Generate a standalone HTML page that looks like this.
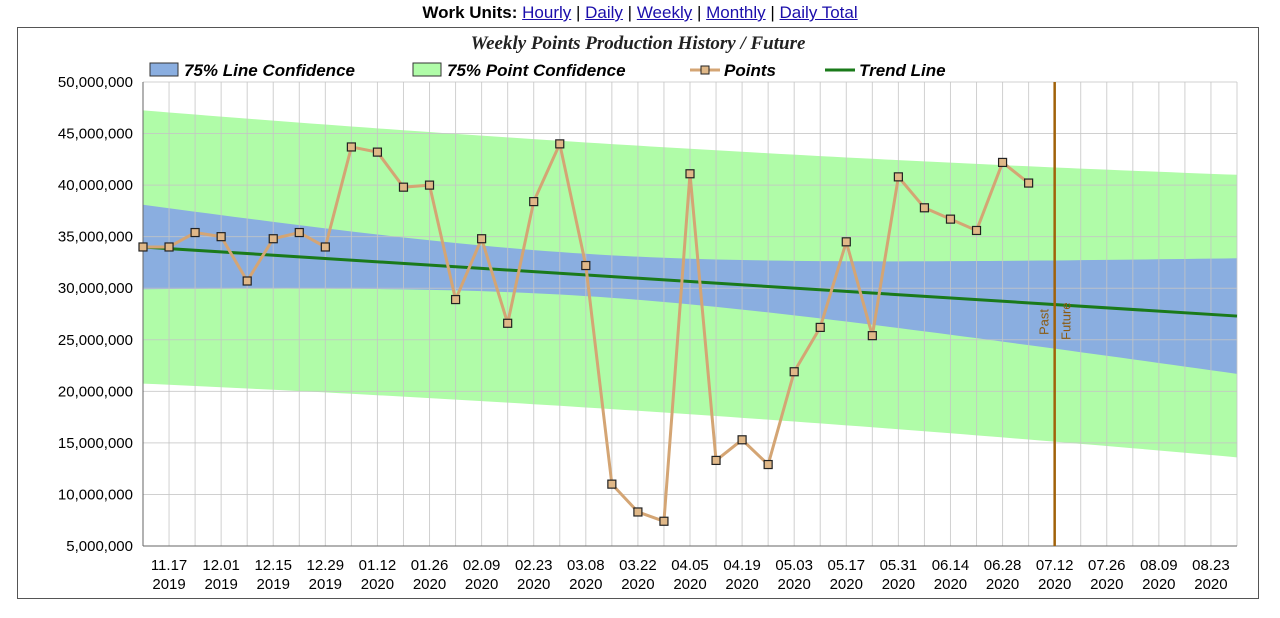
<!DOCTYPE html>
<html><head><meta charset="utf-8">
<style>
body{margin:0;background:#fff;width:1280px;height:618px;overflow:hidden;font-family:"Liberation Sans",sans-serif;}
#hdr{position:absolute;top:3px;left:0;width:1280px;text-align:center;font-size:17px;}
#hdr a{color:#1a0dab;text-decoration:underline;}
#frame{position:absolute;left:17px;top:27px;width:1242px;height:572px;border:1px solid #555;box-sizing:border-box;}
svg{position:absolute;left:0;top:0;}
</style></head><body>
<div id="hdr"><b>Work Units:</b> <a>Hourly</a> | <a>Daily</a> | <a>Weekly</a> | <a>Monthly</a> | <a>Daily Total</a></div>
<div id="frame"></div>
<svg id="c" width="1280" height="618"></svg>
<script>
const points=[34.0,34.0,35.4,35.0,30.7,34.8,35.4,34.0,43.7,43.2,39.8,40.0,28.9,34.8,26.6,38.4,44.0,32.2,11.0,8.3,7.4,41.1,13.3,15.3,12.9,21.9,26.2,34.5,25.4,40.8,37.8,36.7,35.6,42.2,40.2];
const trendStart=34.0, trendEnd=27.3;
const lineConfMin=2.05, lineConfSlope=0.2086;
const pointConfMin=12.85, pointConfSlope=0.19;
const yTicks=[5,10,15,20,25,30,35,40,45,50];
const xLabels=[["11.17","2019"],["12.01","2019"],["12.15","2019"],["12.29","2019"],["01.12","2020"],["01.26","2020"],["02.09","2020"],["02.23","2020"],["03.08","2020"],["03.22","2020"],["04.05","2020"],["04.19","2020"],["05.03","2020"],["05.17","2020"],["05.31","2020"],["06.14","2020"],["06.28","2020"],["07.12","2020"],["07.26","2020"],["08.09","2020"],["08.23","2020"]];
const totalWeeks=42, pastFutureWeek=35;

const NS="http://www.w3.org/2000/svg",svg=document.getElementById('c');
const X0=143,X1=1237,Y0=546,Y1=82;
const xs=w=>X0+(X1-X0)*w/totalWeeks;
const ys=v=>Y0-(Y0-Y1)*(v-5)/45;
function el(t,a,p){const e=document.createElementNS(NS,t);for(const k in a)e.setAttribute(k,a[k]);(p||svg).appendChild(e);return e;}
const trend=w=>trendStart+(trendEnd-trendStart)*w/totalWeeks;
const hw=(m,k,w)=>Math.sqrt(m*m+k*k*(w-17)*(w-17));
function band(m,k,fill,name){let up=[],dn=[];for(let w=0;w<=totalWeeks;w+=0.5){up.push(xs(w)+','+ys(Math.min(50,trend(w)+hw(m,k,w))));dn.unshift(xs(w)+','+ys(trend(w)-hw(m,k,w)));}
const p=el('polygon',{points:up.concat(dn).join(' '),fill:fill});

}
band(pointConfMin,pointConfSlope,'#b0fca8','point-confidence-band');
band(lineConfMin,lineConfSlope,'#8aaee0','line-confidence-band');
// grid
for(let w=0;w<=totalWeeks;w++){const g=el('line',{x1:xs(w),x2:xs(w),y1:Y1,y2:Y0,stroke:'#c4c4c4','stroke-width':1,'stroke-opacity':0.8});

}
yTicks.forEach(v=>{const g=el('line',{x1:X0,x2:X1,y1:ys(v),y2:ys(v),stroke:'#c4c4c4','stroke-opacity':0.8});


const t=el('text',{x:133,y:ys(v)+5,'text-anchor':'end','font-size':15,fill:'#000'});t.textContent=v.toLocaleString('en-US')+',000,000';

});
el('line',{x1:X0,x2:X0,y1:Y1,y2:Y0,stroke:'#666'});
el('line',{x1:X0,x2:X1,y1:Y0,y2:Y0,stroke:'#666'});
xLabels.forEach((l,i)=>{const w=1+2*i;const t=el('text',{x:xs(w),y:570,'text-anchor':'middle','font-size':15});t.textContent=l[0];


const t2=el('text',{x:xs(w),y:589,'text-anchor':'middle','font-size':15});t2.textContent=l[1];

});
// trend
const tl=el('line',{x1:xs(0),y1:ys(trend(0)),x2:xs(totalWeeks),y2:ys(trend(totalWeeks)),stroke:'#1a7a1a','stroke-width':3});


// past/future
const pf=el('line',{x1:xs(pastFutureWeek),x2:xs(pastFutureWeek),y1:Y1,y2:Y0,stroke:'#a0620a','stroke-width':2.5});


const pt=el('text',{x:0,y:0,'font-size':13,fill:'#8a5a10',transform:`translate(${xs(pastFutureWeek)-6},335) rotate(-90)`});pt.textContent='Past';
const ft=el('text',{x:0,y:0,'font-size':13,fill:'#8a5a10',transform:`translate(${xs(pastFutureWeek)+16},340) rotate(-90)`});ft.textContent='Future';
// points
const pl=el('polyline',{points:points.map((v,i)=>xs(i)+','+ys(v)).join(' '),fill:'none',stroke:'#d4a574','stroke-width':3});


points.forEach((v,i)=>{const r=el('rect',{x:xs(i)-4,y:ys(v)-4,width:8,height:8,fill:'#e0b888',stroke:'#222','stroke-width':1.2});

});
// title & legend
const tt=el('text',{x:638,y:49,'text-anchor':'middle','font-size':19,'font-weight':'bold','font-style':'italic','font-family':'Liberation Serif,serif',fill:'#222'});tt.textContent='Weekly Points Production History / Future';


function leg(x,label,kind,col){const g=el('g',{});


if(kind==='box')el('rect',{x:x,y:63,width:28,height:13,fill:col,stroke:'#333'},g);
else{el('line',{x1:x,x2:x+30,y1:70,y2:70,stroke:col,'stroke-width':3},g);if(kind==='pt')el('rect',{x:x+11,y:66,width:8,height:8,fill:'#e0b888',stroke:'#222'},g);}
const t=el('text',{x:x+34,y:76,'font-size':17,'font-weight':'bold','font-style':'italic'},g);t.textContent=label;}
leg(150,'75% Line Confidence','box','#8aaee0');
leg(413,'75% Point Confidence','box','#b0fca8');
leg(690,'Points','pt','#d4a574');
leg(825,'Trend Line','line','#1a7a1a');
</script>
</body></html>
